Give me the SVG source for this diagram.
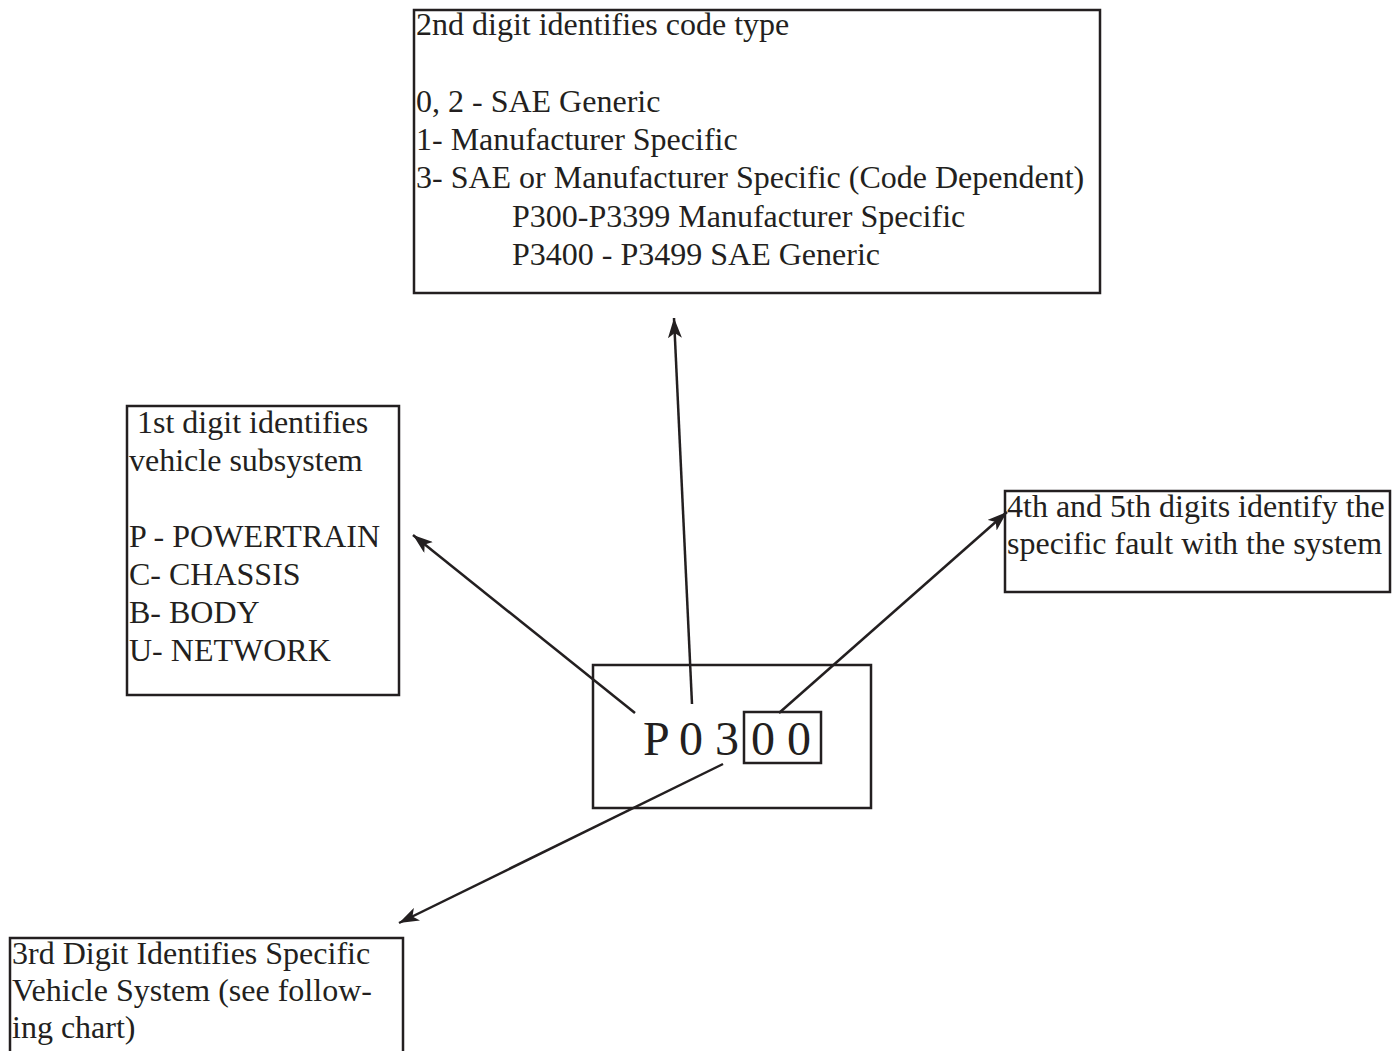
<svg xmlns="http://www.w3.org/2000/svg" width="1400" height="1051" viewBox="0 0 1400 1051">
<style>
.box{fill:none;stroke:#231f20;stroke-width:2.5}
.t{font-family:"Liberation Serif","Times New Roman",serif;font-size:32px;fill:#231f20}
.big{font-family:"Liberation Serif","Times New Roman",serif;font-size:48px;fill:#231f20}
.ln{fill:none;stroke:#231f20;stroke-width:2.5;marker-end:url(#ah)}
</style>
<defs>
<marker id="ah" markerUnits="userSpaceOnUse" markerWidth="22" markerHeight="14" refX="20" refY="7" orient="auto">
<path d="M0,0 L20,7 L0,14 L5,7 z" fill="#231f20"/>
</marker>
</defs>
<rect width="1400" height="1051" fill="#ffffff"/>
<g id="second-digit">
<rect class="box" x="414" y="10" width="686" height="283"/>
<text class="t" x="416" y="35">2nd digit identifies code type</text>
<text class="t" x="416" y="112">0, 2 - SAE Generic</text>
<text class="t" x="416" y="150">1- Manufacturer Specific</text>
<text class="t" x="416" y="188">3- SAE or Manufacturer Specific (Code Dependent)</text>
<text class="t" x="512" y="227">P300-P3399 Manufacturer Specific</text>
<text class="t" x="512" y="265">P3400 - P3499 SAE Generic</text>
</g>
<g id="first-digit">
<rect class="box" x="127" y="406" width="272" height="289"/>
<text class="t" x="129" y="433" xml:space="preserve"> 1st digit identifies</text>
<text class="t" x="129" y="471">vehicle subsystem</text>
<text class="t" x="129" y="547">P - POWERTRAIN</text>
<text class="t" x="129" y="585">C- CHASSIS</text>
<text class="t" x="129" y="623">B- BODY</text>
<text class="t" x="129" y="661">U- NETWORK</text>
</g>
<g id="fourth-fifth">
<rect class="box" x="1005" y="491" width="385" height="101"/>
<text class="t" x="1007" y="517">4th and 5th digits identify the</text>
<text class="t" x="1007" y="554">specific fault with the system</text>
</g>
<g id="third-digit">
<rect class="box" x="10" y="938" width="393" height="120"/>
<text class="t" x="12" y="964">3rd Digit Identifies Specific</text>
<text class="t" x="12" y="1001">Vehicle System (see follow-</text>
<text class="t" x="12" y="1038">ing chart)</text>
</g>
<g id="code">
<rect class="box" x="593" y="665" width="278" height="143"/>
<rect class="box" x="744" y="712" width="77" height="51"/>
<text class="big" y="755"><tspan x="643">P</tspan><tspan x="679">0</tspan><tspan x="715">3</tspan><tspan x="751">0</tspan><tspan x="787">0</tspan></text>
</g>
<g id="connectors">
<line class="ln" x1="635" y1="713" x2="413" y2="535"/>
<line class="ln" x1="692" y1="704" x2="674" y2="318"/>
<line class="ln" x1="779" y1="713" x2="1007" y2="512"/>
<line class="ln" x1="723" y1="764" x2="399" y2="923"/>
</g>
</svg>
